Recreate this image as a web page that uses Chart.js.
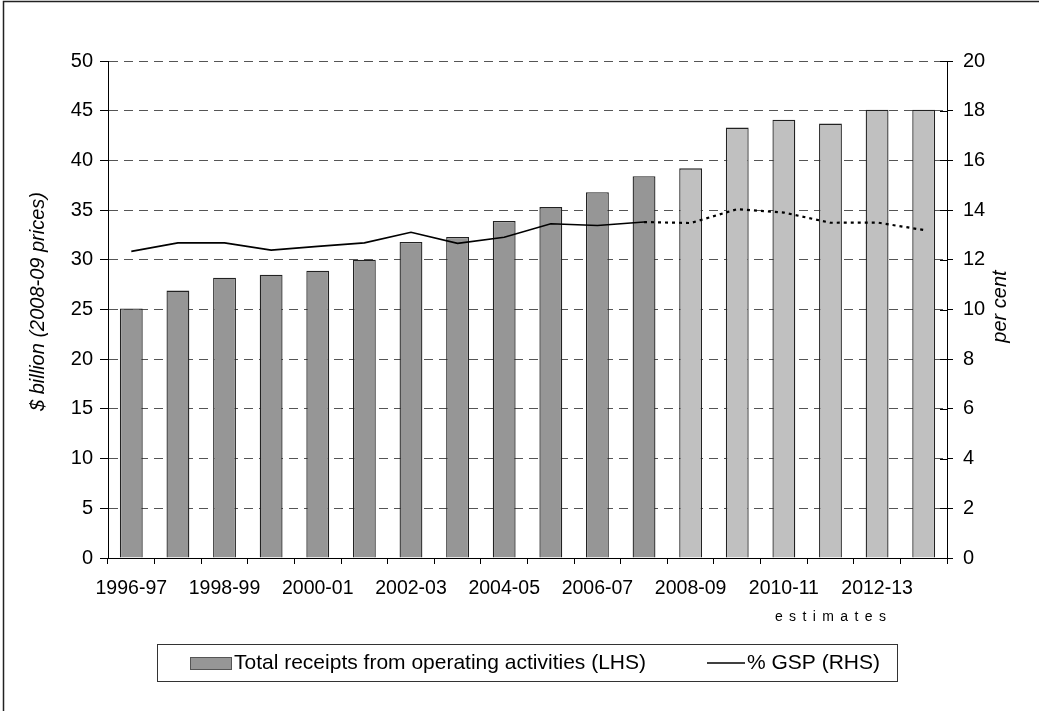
<!DOCTYPE html>
<html>
<head>
<meta charset="utf-8">
<script src="https://cdn.jsdelivr.net/npm/chart.js@4.4.1/dist/chart.umd.min.js"></script>
<style>
  html, body { margin: 0; padding: 0; background: #fff; }
  canvas { display: block; }
</style>
</head>
<body>
<canvas id="chart" width="1039" height="711"></canvas>
<script>
// Receipts chart data
const years = ['1996-97', '1997-98', '1998-99', '1999-00', '2000-01', '2001-02', '2002-03', '2003-04', '2004-05',
  '2005-06', '2006-07', '2007-08', '2008-09', '2009-10', '2010-11', '2011-12', '2012-13', '2013-14'];
const receipts = [25.1, 26.9, 28.2, 28.5, 28.9, 30.0, 31.8, 32.3, 33.9, 35.3, 36.8, 38.4, 39.2, 43.3, 44.1, 43.7, 45.1, 45.1];
const gspShare = [12.34, 12.68, 12.68, 12.39, 12.54, 12.68, 13.11, 12.66, 12.91, 13.45, 13.38, 13.52, 13.48, 14.04, 13.9, 13.49, 13.5, 13.2];
const firstEstimate = 12; // 2008-09 onwards are estimates
const leftTicks = [0, 5, 10, 15, 20, 25, 30, 35, 40, 45, 50];
const rightTicks = [0, 2, 4, 6, 8, 10, 12, 14, 16, 18, 20];

const barLabel = 'Total receipts from operating activities (LHS)';
const lineLabel = '% GSP (RHS)';
const leftTitle = '$ billion (2008-09 prices)';
const rightTitle = 'per cent';
const estimatesNote = 'estimates';

const FONT = "'Liberation Sans', Arial, sans-serif";
const darkBar = '#969696';
const lightBar = '#c0c0c0';

const barColors = receipts.map((v, i) => i >= firstEstimate ? lightBar : darkBar);

// extra drawing: frame, axis titles, estimates note, inner right ticks, legend
const extras = {
  id: 'extras',
  afterDraw(chart) {
    const ctx = chart.ctx;
    const area = chart.chartArea;
    const x = chart.scales.x;
    const y1 = chart.scales.y1;
    ctx.save();

    // outer frame
    ctx.strokeStyle = '#222';
    ctx.lineWidth = 1.5;
    ctx.strokeRect(3.5, 1.5, 2000, 2000);

    // right axis ticks crossing into the plot
    ctx.strokeStyle = '#000';
    ctx.lineWidth = 1;
    rightTicks.forEach(t => {
      const py = Math.round(y1.getPixelForValue(t)) + 0.5;
      ctx.beginPath();
      ctx.moveTo(area.right - 7, py);
      ctx.lineTo(area.right, py);
      ctx.stroke();
    });

    // axis titles
    const midY = (area.top + area.bottom) / 2;
    ctx.fillStyle = '#000';
    ctx.font = 'italic 20px ' + FONT;
    ctx.textAlign = 'center';
    ctx.textBaseline = 'middle';
    ctx.save();
    ctx.translate(38, midY - 8);
    ctx.rotate(-Math.PI / 2);
    ctx.fillText(leftTitle, 0, 0);
    ctx.restore();
    ctx.save();
    ctx.translate(1000, midY - 3);
    ctx.rotate(-Math.PI / 2);
    ctx.fillText(rightTitle, 0, 0);
    ctx.restore();

    // estimates note, letter spaced
    ctx.font = '14px ' + FONT;
    ctx.textAlign = 'left';
    const spacing = 6.4;
    const chars = estimatesNote.split('');
    const total = chars.reduce((s, c) => s + ctx.measureText(c).width, 0) + spacing * (chars.length - 1);
    let cx = x.getPixelForValue(15) - total / 2;
    chars.forEach(c => {
      ctx.fillText(c, cx, 617);
      cx += ctx.measureText(c).width + spacing;
    });

    // legend
    const lx = 157, ly = 644, lw = 740, lh = 37;
    ctx.strokeStyle = '#333';
    ctx.lineWidth = 1;
    ctx.strokeRect(lx + 0.5, ly + 0.5, lw, lh);
    const cy = ly + lh / 2 + 0.5;
    ctx.fillStyle = darkBar;
    ctx.fillRect(190, cy - 6, 42, 13);
    ctx.strokeStyle = '#555';
    ctx.strokeRect(190.5, cy - 5.5, 41, 12);
    ctx.fillStyle = '#000';
    ctx.font = '21px ' + FONT;
    ctx.textBaseline = 'middle';
    ctx.fillText(barLabel, 234, cy);
    ctx.strokeStyle = '#000';
    ctx.lineWidth = 1.5;
    ctx.beginPath();
    ctx.moveTo(707, cy);
    ctx.lineTo(745, cy);
    ctx.stroke();
    ctx.fillText(lineLabel, 747, cy);

    ctx.restore();
  }
};

new Chart(document.getElementById('chart'), {
  data: {
    labels: years,
    datasets: [
      {
        type: 'line',
        label: lineLabel,
        data: gspShare,
        yAxisID: 'y1',
        borderColor: '#000',
        borderWidth: 1.6,
        pointRadius: 0,
        tension: 0,
        order: 0,
        segment: {
          borderDash: c => c.p1DataIndex >= firstEstimate ? [3, 4] : undefined,
          borderWidth: c => c.p1DataIndex >= firstEstimate ? 2.2 : undefined
        }
      },
      {
        type: 'bar',
        label: barLabel,
        data: receipts,
        yAxisID: 'y',
        backgroundColor: barColors,
        borderColor: '#222',
        borderWidth: 1.3,
        borderSkipped: 'bottom',
        categoryPercentage: 1,
        barPercentage: 0.49,
        order: 1
      }
    ]
  },
  options: {
    responsive: false,
    animation: false,
    events: [],
    layout: { padding: { left: 4, top: 61, right: 0, bottom: 113 } },
    plugins: {
      legend: { display: false },
      tooltip: { enabled: false }
    },
    scales: {
      x: {
        type: 'category',
        offset: true,
        grid: { offset: true, drawOnChartArea: false, tickLength: 6, color: '#000' },
        border: { color: '#000', width: 1 },
        ticks: {
          autoSkip: false,
          maxRotation: 0,
          padding: 13,
          color: '#000',
          font: { family: FONT, size: 19.5 },
          callback: (v, i) => i % 2 === 0 ? years[i] : ''
        },
        afterFit: s => { s.height = 40; }
      },
      y: {
        position: 'left',
        min: 0,
        max: 50,
        afterBuildTicks: s => { s.ticks = leftTicks.map(v => ({ value: v })); },
        grid: { color: '#555', lineWidth: 1, tickLength: 8, tickColor: '#000' },
        border: { color: '#000', width: 1, dash: [9, 6] },
        ticks: { padding: 7, color: '#000', font: { family: FONT, size: 20 } },
        afterFit: s => { s.width = 104; }
      },
      y1: {
        position: 'right',
        min: 0,
        max: 20,
        afterBuildTicks: s => { s.ticks = rightTicks.map(v => ({ value: v })); },
        grid: { drawOnChartArea: false, tickLength: 6, color: '#000' },
        border: { color: '#000', width: 1 },
        ticks: { padding: 10, color: '#000', font: { family: FONT, size: 20 } },
        afterFit: s => { s.width = 92; }
      }
    }
  },
  plugins: [extras]
});
</script>
</body>
</html>
